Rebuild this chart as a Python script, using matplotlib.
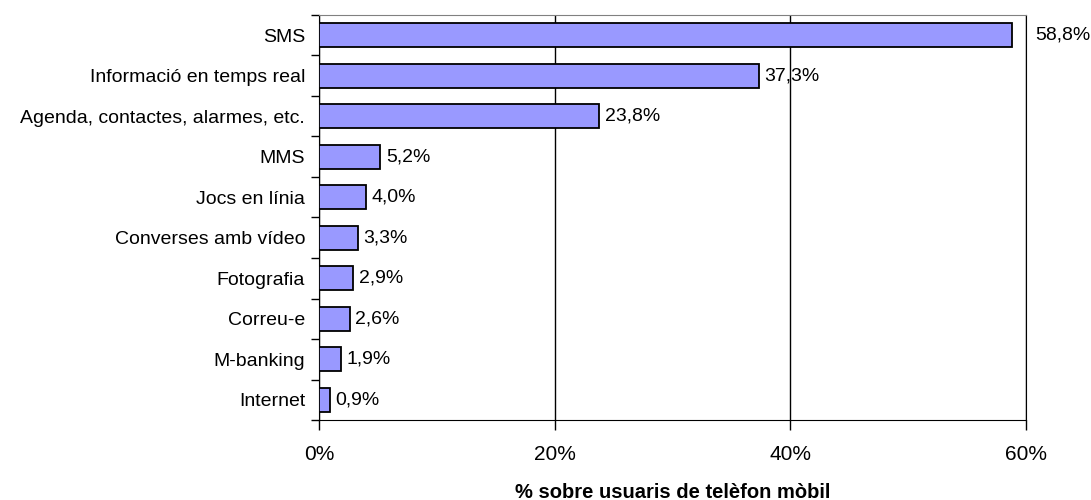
import matplotlib.pyplot as plt
import numpy as np
from matplotlib.ticker import FixedLocator

plt.rcParams['font.family'] = ['Liberation Sans', 'DejaVu Sans']

# Data
categories = ['SMS', 'Informació en temps real', 'Agenda, contactes, alarmes, etc.',
              'MMS', 'Jocs en línia', 'Converses amb vídeo', 'Fotografia',
              'Correu-e', 'M-banking', 'Internet']
values = [58.8, 37.3, 23.8, 5.2, 4.0, 3.3, 2.9, 2.6, 1.9, 0.9]
xticks = [0, 20, 40, 60]
xtick_labels = ['0%', '20%', '40%', '60%']

fig = plt.figure(figsize=(10.91, 5.0), dpi=100)
ax = fig.add_axes([319 / 1091, 1 - 420 / 500, 707 / 1091, 405 / 500])

y = np.arange(len(categories))
ax.barh(y, values, height=0.6, color='#9999FF', edgecolor='black', linewidth=1.3, zorder=3)

# Value labels (comma decimal)
for yi, v in zip(y, values):
    dx = 17 if v > 55 else 4
    ax.annotate(f'{v:.1f}%'.replace('.', ','), xy=(v, yi), xytext=(dx, 0),
                textcoords='offset points', va='center', ha='left', fontsize=14)

ax.set_xlim(0, 60)
ax.set_ylim(len(categories) - 0.5, -0.5)

# Category labels at centres, ticks at category boundaries
ax.yaxis.set_major_locator(FixedLocator(np.arange(-0.5, len(categories), 1.0)))
ax.yaxis.set_minor_locator(FixedLocator(y))
ax.set_yticklabels([], minor=False)
ax.set_yticklabels(categories, minor=True, fontsize=14)
ax.tick_params(axis='y', which='major', direction='out', length=6, width=1)
ax.tick_params(axis='y', which='minor', length=0, pad=10)

ax.set_xticks(xticks)
ax.set_xticklabels(xtick_labels, fontsize=15)
ax.tick_params(axis='x', direction='out', length=7, width=1, pad=11)

ax.xaxis.grid(True, color='black', linewidth=1, zorder=0)
ax.set_axisbelow(True)

ax.spines['top'].set_color('#808080')
ax.spines['right'].set_color('black')

ax.set_xlabel('% sobre usuaris de telèfon mòbil', fontsize=14.5, fontweight='bold')
ax.xaxis.set_label_coords(0.5, -0.155)

fig.savefig('out.png', dpi=100)
